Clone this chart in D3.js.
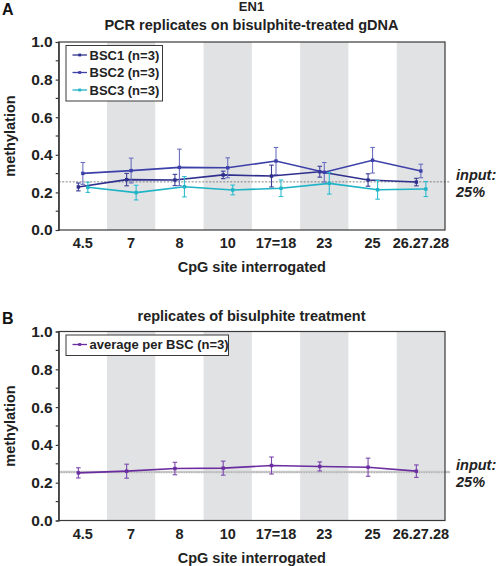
<!DOCTYPE html>
<html><head><meta charset="utf-8">
<script src="https://cdn.jsdelivr.net/npm/d3@7"></script>
<style>
html,body{margin:0;padding:0;background:#fff;}
svg{display:block;font-family:"Liberation Sans",Arial,Helvetica,sans-serif;font-weight:bold;}
</style></head>
<body>
<script>
// ---- data ----
const categories = ["4.5","7","8","10","17=18","23","25","26.27.28"];
const bsc1    = [0.229,0.268,0.266,0.293,0.287,0.310,0.266,0.255];
const bsc1Err = [0.021,0.033,0.030,0.020,0.058,0.029,0.033,0.020];
const bsc2    = [0.301,0.316,0.333,0.331,0.367,0.307,0.371,0.314];
const bsc2Err = [0.058,0.066,0.097,0.053,0.072,0.052,0.068,0.036];
const bsc3    = [0.227,0.199,0.230,0.213,0.222,0.248,0.214,0.218];
const bsc3Err = [0.027,0.039,0.054,0.026,0.044,0.057,0.050,0.040];
const avgBSC    = [0.252,0.261,0.275,0.277,0.291,0.286,0.282,0.261];
const avgBSCErr = [0.027,0.037,0.033,0.037,0.045,0.024,0.048,0.033];
const inputLevel = 0.256;
const yTicks = [0,0.2,0.4,0.6,0.8,1.0];
const yMinorTicks = [0.1,0.3,0.5,0.7,0.9];
const legendA = ["BSC1 (n=3)","BSC2 (n=3)","BSC3 (n=3)"];
const legendB = ["average per BSC (n=3)"];

const W=496,H=566;
const svg=d3.select("body").append("svg").attr("width",W).attr("height",H);
const X0=58.7, X1=445;
const x=d3.scaleBand().domain(categories).range([X0,X1]);

function panel(cfg){
  const g=svg.append("g");
  const y=d3.scaleLinear().domain([0,1]).range([cfg.yBot,cfg.yTop]);
  // bands
  g.selectAll("rect.band").data(categories.filter((c,i)=>i%2===1)).join("rect")
    .attr("x",d=>x(d)).attr("y",cfg.yTop).attr("width",x.bandwidth()).attr("height",cfg.yBot-cfg.yTop)
    .attr("fill","#e1e2e4");
  // input line
  if(cfg.thickInput){
    g.append("line").attr("x1",X0).attr("x2",450).attr("y1",y(inputLevel)).attr("y2",y(inputLevel))
      .attr("stroke","#cfcfcf").attr("stroke-width",2.5);
    g.append("line").attr("x1",X0).attr("x2",450).attr("y1",y(inputLevel)).attr("y2",y(inputLevel))
      .attr("stroke","#999").attr("stroke-width",1).attr("stroke-dasharray","1,1.5");
  } else {
    g.append("line").attr("x1",X0).attr("x2",450).attr("y1",y(inputLevel)).attr("y2",y(inputLevel))
      .attr("stroke","#666").attr("stroke-width",0.8).attr("stroke-dasharray","2,1.5");
  }
  // series
  cfg.series.forEach(s=>{
    const px=(i)=>x(categories[i])+x.bandwidth()/2+s.off;
    const line=d3.line().x((d,i)=>px(i)).y(d=>y(d));
    g.append("path").datum(s.vals).attr("d",line).attr("fill","none")
      .attr("stroke",s.color).attr("stroke-width",1.6);
    const eg=g.append("g").attr("stroke",s.errColor).attr("stroke-width",1.1);
    s.vals.forEach((v,i)=>{
      const cx=px(i), e=s.err[i];
      eg.append("line").attr("x1",cx).attr("x2",cx).attr("y1",y(v-e)).attr("y2",y(v+e));
      eg.append("line").attr("x1",cx-2.3).attr("x2",cx+2.3).attr("y1",y(v-e)).attr("y2",y(v-e));
      eg.append("line").attr("x1",cx-2.3).attr("x2",cx+2.3).attr("y1",y(v+e)).attr("y2",y(v+e));
    });
    g.selectAll(null).data(s.vals).join("rect")
      .attr("x",(d,i)=>px(i)-1.7).attr("y",d=>y(d)-1.7).attr("width",3.4).attr("height",3.4)
      .attr("fill",s.color);
  });
  // frame
  g.append("rect").attr("x",X0).attr("y",cfg.yTop).attr("width",X1-X0).attr("height",cfg.yBot-cfg.yTop)
    .attr("fill","none").attr("stroke","#3a3a3a").attr("stroke-width",1.2);
  // y axis
  const ax=g.append("g").attr("transform",`translate(${X0},0)`)
    .call(d3.axisLeft(y).tickValues(yTicks).tickFormat(d3.format(".1f")).tickSize(3).tickPadding(3));
  ax.select(".domain").attr("stroke","#3a3a3a").attr("stroke-width",1.2);
  ax.selectAll(".tick line").attr("stroke","#3a3a3a").attr("stroke-width",1.2);
  ax.selectAll(".tick text").attr("font-size",15.5).attr("font-weight","bold").attr("fill","#222")
    .attr("font-family","Liberation Sans, Arial, sans-serif");
  g.selectAll("line.minor").data(yMinorTicks).join("line")
    .attr("x1",X0-3).attr("x2",X0).attr("y1",d=>y(d)).attr("y2",d=>y(d))
    .attr("stroke","#3a3a3a").attr("stroke-width",1.2);
  // x labels
  g.selectAll("text.xl").data(categories).join("text")
    .attr("x",d=>x(d)+x.bandwidth()/2).attr("y",cfg.yBot+18).attr("text-anchor","middle")
    .attr("font-size",14.5).attr("fill","#222").text(d=>d);
  g.append("text").attr("x",(X0+X1)/2).attr("y",cfg.yBot+42).attr("text-anchor","middle")
    .attr("font-size",14.5).attr("fill","#222").text("CpG site interrogated");
  g.append("text").attr("transform",`translate(15,${(cfg.yTop+cfg.yBot)/2}) rotate(-90)`)
    .attr("text-anchor","middle").attr("font-size",14.5).attr("fill","#222").text("methylation");
  // input label
  g.append("text").attr("x",456).attr("y",y(inputLevel)-2).attr("font-size",14.5).attr("font-style","italic")
    .attr("fill","#222").text("input:");
  g.append("text").attr("x",456).attr("y",y(inputLevel)+15).attr("font-size",14.5).attr("font-style","italic")
    .attr("fill","#222").text("25%");
  // legend
  const lg=g.append("g");
  lg.append("rect").attr("x",66).attr("y",cfg.yTop+3.5).attr("width",cfg.legW).attr("height",cfg.legend.length*17.5+3)
    .attr("fill","#fff").attr("stroke","#3a3a3a").attr("stroke-width",1);
  cfg.legend.forEach((t,i)=>{
    const ly=cfg.yTop+13+i*17.5;
    const col=cfg.series[i].color;
    lg.append("line").attr("x1",72.5).attr("x2",87).attr("y1",ly).attr("y2",ly).attr("stroke",col).attr("stroke-width",1.3);
    lg.append("rect").attr("x",78.3).attr("y",ly-1.4).attr("width",2.8).attr("height",2.8).attr("fill",col);
    lg.append("text").attr("x",89.5).attr("y",ly+4.6).attr("font-size",13).attr("fill","#222").text(t);
  });
}

panel({yTop:42,yBot:230,thickInput:false,legW:96.5,legend:legendA,
  series:[
    {vals:bsc1,err:bsc1Err,off:-4.5,color:"#2e2f8c",errColor:"#3b3c97"},
    {vals:bsc2,err:bsc2Err,off:0,color:"#3c40a8",errColor:"#6b6fbf"},
    {vals:bsc3,err:bsc3Err,off:5,color:"#1fb3c6",errColor:"#2dbdd0"}
  ]});
panel({yTop:331.5,yBot:520.5,thickInput:true,legW:162.5,legend:legendB,
  series:[
    {vals:avgBSC,err:avgBSCErr,off:-4.5,color:"#6a2da0",errColor:"#7b46ae"}
  ]});

// titles
svg.append("text").attr("x",2).attr("y",15).attr("font-size",16).attr("fill","#111").text("A");
svg.append("text").attr("x",251.5).attr("y",10.5).attr("text-anchor","middle").attr("font-size",13).attr("fill","#222").text("EN1");
svg.append("text").attr("x",251.5).attr("y",29.5).attr("text-anchor","middle").attr("font-size",14.5).attr("fill","#222").text("PCR replicates on bisulphite-treated gDNA");
svg.append("text").attr("x",2).attr("y",323.5).attr("font-size",16).attr("fill","#111").text("B");
svg.append("text").attr("x",251.5).attr("y",320.5).attr("text-anchor","middle").attr("font-size",14.5).attr("fill","#222").text("replicates of bisulphite treatment");
</script>
</body></html>
